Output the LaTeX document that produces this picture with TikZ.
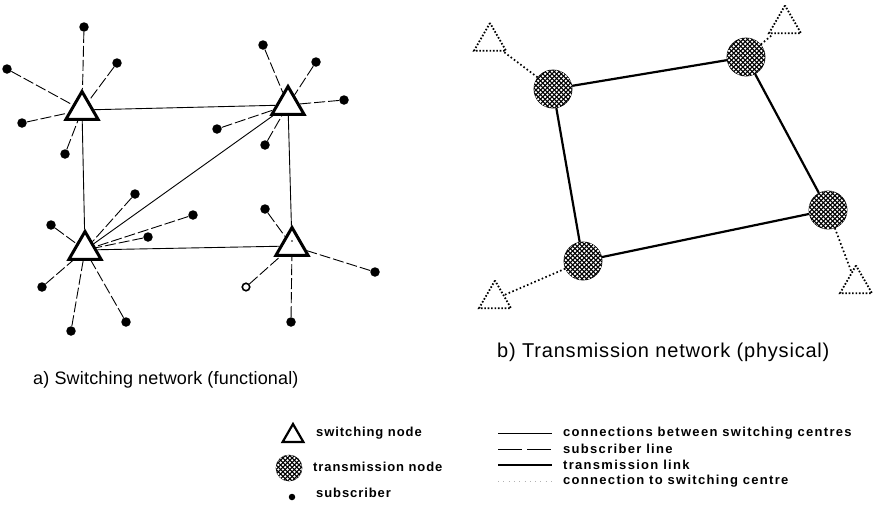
\documentclass[tikz,border=0pt]{standalone}
\usepackage{fontspec}
\setmainfont{Liberation Sans}
\usetikzlibrary{shapes.geometric,patterns}

% white dot mesh laid over the black transmission nodes
\pgfdeclarepatternformonly{meshdots}{\pgfqpoint{-1.4pt}{-1.4pt}}{\pgfqpoint{3.8pt}{3.8pt}}{\pgfqpoint{4.6pt}{4.6pt}}{%
  \pgfpathcircle{\pgfqpoint{0pt}{0pt}}{1.3pt}%
  \pgfpathcircle{\pgfqpoint{2.3pt}{2.3pt}}{1.3pt}%
  \pgfusepath{fill}}

\tikzset{
  swnode/.style={regular polygon, regular polygon sides=3, draw, line width=3pt,
    minimum size=37pt, inner sep=0pt, fill=white},
  subdot/.style={circle, fill=black, inner sep=0pt, minimum size=9.5pt},
  subopen/.style={circle, draw, fill=white, line width=1.6pt, inner sep=0pt, minimum size=7.5pt},
  txnode/.style={circle, draw, line width=0.8pt, fill=black, minimum size=38pt, inner sep=0pt,
    postaction={pattern=meshdots, pattern color=white}},
  swcentre/.style={regular polygon, regular polygon sides=3, draw, line width=1.8pt,
    dash pattern=on 1.6pt off 1.8pt, minimum size=37pt, inner sep=0pt},
  subline/.style={line width=0.9pt, dash pattern=on 11pt off 3pt},
  trunk/.style={line width=0.9pt},
  txlink/.style={line width=2.2pt},
  feeder/.style={line width=1.7pt, dash pattern=on 1.6pt off 2.4pt},
  caption/.style={anchor=west, inner sep=0pt},
  legtext/.style={font=\fontsize{13}{15}\selectfont\bfseries\addfontfeatures{LetterSpace=7}, anchor=west, inner sep=0pt},
  legwide/.style={font=\fontsize{13}{15}\selectfont\bfseries\addfontfeatures{LetterSpace=10}, anchor=west, inner sep=0pt},
}

\begin{document}
\begin{tikzpicture}[x=1pt, y=-1pt]
\useasboundingbox (0,0) rectangle (873,504);

% ---- a) switching network: switching nodes
\node[swnode] (A) at (82,110) {};
\node[swnode] (B) at (288,105) {};
\node[swnode] (C) at (85,250) {};
\node[swnode] (D) at (292,246) {};

% connections between switching centres
\draw[trunk] (A) -- (B);
\draw[trunk] (A) -- (C);
\draw[trunk] (B) -- (D);
\draw[trunk] (C) -- (D);
\draw[trunk] (C) -- (B);

% subscribers
\node[subdot] (a1) at (84,27) {};
\node[subdot] (a2) at (117,63) {};
\node[subdot] (a3) at (7,69) {};
\node[subdot] (a4) at (22,123) {};
\node[subdot] (a5) at (65,154) {};
\node[subdot] (b1) at (263,45) {};
\node[subdot] (b2) at (316,62) {};
\node[subdot] (b3) at (344,100) {};
\node[subdot] (b4) at (217,129) {};
\node[subdot] (b5) at (265,145) {};
\node[subdot] (c1) at (135,194) {};
\node[subdot] (c2) at (193,215) {};
\node[subdot] (c3) at (148,237) {};
\node[subdot] (c4) at (51,225) {};
\node[subdot] (c5) at (42,287) {};
\node[subdot] (c6) at (71,331) {};
\node[subdot] (c7) at (126,322) {};
\node[subdot] (d1) at (265,209) {};
\node[subdot] (d2) at (375,272) {};
\node[subopen] (d3) at (246,287) {};
\node[subdot] (d4) at (291,322) {};
\fill (292,241) circle (0.9pt);

% subscriber lines
\foreach \s in {a1,a2,a3,a4,a5} \draw[subline] (\s) -- (A);
\foreach \s in {b1,b2,b3,b4,b5} \draw[subline] (\s) -- (B);
\foreach \s in {c1,c2,c3,c4,c5,c6,c7} \draw[subline] (\s) -- (C);
\foreach \s in {d1,d2,d3,d4} \draw[subline] (\s) -- (D);

% ---- b) transmission network
\node[txnode] (P1) at (553,89) {};
\node[txnode] (P2) at (746,57) {};
\node[txnode] (P3) at (828,210) {};
\node[txnode] (P4) at (583,261) {};

\node[swcentre] (T1) at (490,41.5) {};
\node[swcentre] (T2) at (785,24) {};
\node[swcentre] (T3) at (856,284) {};
\node[swcentre] (T4) at (495,299) {};

\draw[txlink] (P1) -- (P2) -- (P3) -- (P4) -- (P1);
\draw[feeder] (P1) -- (T1);
\draw[feeder] (P2) -- (T2);
\draw[feeder] (P3) -- (T3);
\draw[feeder] (P4) -- (T4);

% ---- captions
\node[caption, font=\fontsize{18}{20}\selectfont\addfontfeatures{LetterSpace=1}] (capa) at (33,380) {a) Switching network (functional)};
\node[caption, font=\fontsize{20}{22}\selectfont\addfontfeatures{LetterSpace=4}] (capb) at (497,352) {b) Transmission network (physical)};

% ---- legend, symbols
\node[swnode, minimum size=24pt, line width=2.2pt] (Lsw) at (293,436) {};
\node[txnode, minimum size=26pt, line width=0.6pt] (Ltx) at (289,468) {};
\node[subdot, minimum size=6.5pt] (Lsub) at (292,497) {};
\node[legtext] (Lswt) at (316,433) {switching node};
\node[legtext] (Ltxt) at (313,467) {transmission node};
\node[legtext] (Lsubt) at (316,493) {subscriber};

% ---- legend, line styles
\coordinate (l1a) at (498,433); \coordinate (l1b) at (552,433);
\coordinate (l2a) at (498,449); \coordinate (l2b) at (552,449);
\coordinate (l3a) at (498,465); \coordinate (l3b) at (552,465);
\coordinate (l4a) at (498,481); \coordinate (l4b) at (552,481);
\draw[line width=1pt] (l1a) -- (l1b);
\draw[line width=1pt, dash pattern=on 24pt off 5pt] (l2a) -- (l2b);
\draw[line width=2pt] (l3a) -- (l3b);
\draw[line width=0.8pt, gray!60, dash pattern=on 0.8pt off 4.5pt] (l4a) -- (l4b);
\node[legwide] (L1t) at (563,433) {connections between switching centres};
\node[legwide] (L2t) at (563,449) {subscriber line};
\node[legwide] (L3t) at (563,465) {transmission link};
\node[legwide] (L4t) at (563,481) {connection to switching centre};
\end{tikzpicture}
\end{document}
